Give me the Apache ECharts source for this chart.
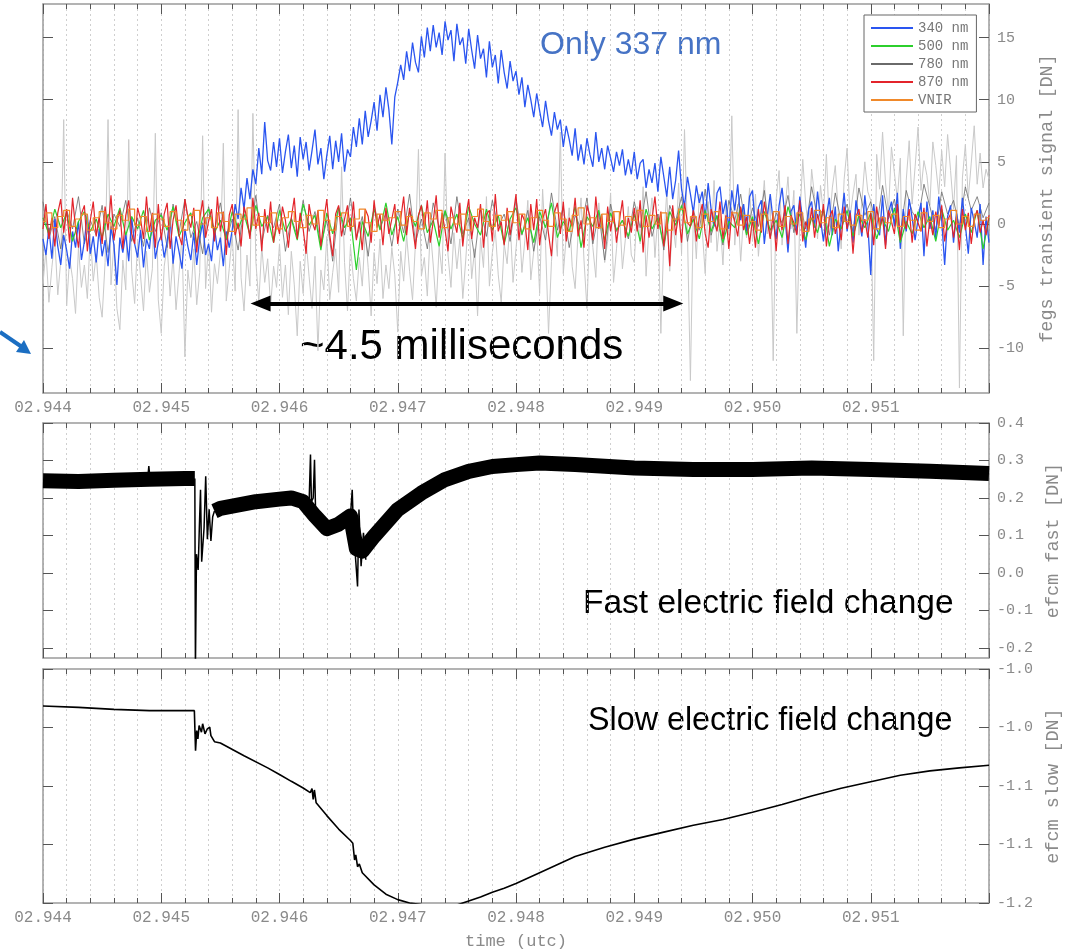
<!DOCTYPE html>
<html>
<head>
<meta charset="utf-8">
<script src="https://cdn.jsdelivr.net/npm/echarts@6/dist/echarts.min.js"></script>
<style>
html, body { margin: 0; padding: 0; background: #fff; }
#main { width: 1076px; height: 951px; }
</style>
</head>
<body>
<div id="main"></div>
<script>
// time is in ms after the minute: 2944 -> "02.944"
var tStart = 2944, tEnd = 2952;
var fineStep = 0.025, coarseStep = 0.05;

// fegs transient signal [DN]; fine series: one value every 0.025 ms (two rows = 1 ms)
var fegsGrey = [
    -4.8, -2.1, -6.3, -3.5, -1.2, -5.7, -3.0, 8.4, -6.6, -2.7, -4.4, -7.2, -1.9, -5.1, -3.3, -6.0, -0.8, -4.6, -2.4, -5.9,
    -7.5, -3.1, 8.4, -4.9, -1.6, -6.8, -8.5, -2.9, -5.3, 6.8, -3.8, -6.4, -1.4, -4.2, -7.0, -2.2, -5.5, -3.6, 7.3, -6.1,
    -8.8, -3.4, -1.7, -5.8, -2.6, -6.9, -4.0, -1.1, -10.7, -3.7, -5.9, -2.0, -6.5, -3.9, 7.1, -5.2, -1.5, -7.1, -3.2, -4.8,
    -2.3, 6.5, -6.2, -3.6, -0.9, -5.4, 9.2, -4.3, -7.0, -2.5, -5.0, 8.9, -3.0, -6.3, -1.8, -4.7, -2.8, -6.6, -3.4, -5.1,
    -1.6, -5.9, -3.3, -7.3, -2.2, -4.9, -9.0, -3.0, -5.6, -1.3, -4.2, -6.8, -2.6, -10.2, -3.7, -5.3, -1.0, -6.1, -3.9, -2.0,
    -5.5, 4.6, -3.1, -7.0, -1.8, -4.4, -6.2, -2.7, -5.0, -0.6, -3.5, -7.4, -2.3, -4.8, -1.2, -6.0, -3.3, -5.2, -1.9, -4.1,
    -8.7, -2.2, -4.6, -0.9, -3.8, -6.1, -1.5, 6.0, -4.2, -2.7, -5.8, -0.4, -3.3, -6.7, -1.8, -4.0, 5.7, -2.5, -5.1, -0.7,
    -3.6, -1.2, -6.0, -2.9, 0.8, -4.4, -2.0, -7.4, -1.1, -3.5, 2.2, -5.0, -2.3, -0.5, -4.1, -6.3, -1.6, -3.2, 0.3, -4.7,
    -2.0, 0.6, -3.9, -1.3, 1.9, -4.5, -2.2, -0.4, -5.6, 2.8, -1.7, -8.8, -3.0, 0.1, -2.6, 7.4, -4.0, -1.0, 1.3, -3.4,
    -5.2, -0.8, 2.1, -2.9, -6.8, 0.4, -1.9, -4.3, 1.7, -0.6, -3.1, -1.4, 2.5, -4.7, -2.0, 0.9, -3.6, -1.2, 1.4, -2.5,
    -3.1, 1.4, -1.6, 3.0, -4.2, -0.3, 2.1, -2.7, 0.8, -8.8, -1.2, 2.6, -3.8, 0.2, -1.9, 3.3, -2.4, 7.6, -0.7, -12.6,
    1.1, -2.8, 2.4, -0.5, -4.0, 1.8, -1.5, 3.5, -2.2, 0.4, -3.3, 2.0, -0.9, 8.7, -1.7, 1.6, -3.0, 0.7, -1.1, 2.9,
    -1.4, 2.4, -2.6, 0.6, 3.5, -0.8, 1.9, -11.0, 2.0, 4.3, -1.7, 1.2, 3.8, -0.4, 2.7, -8.8, 0.4, 5.2, 1.6, -0.6,
    4.4, 2.2, -1.2, 3.1, 0.8, 5.6, -0.2, 2.9, 4.7, 1.0, -2.0, 3.6, 6.1, 0.5, 2.4, 4.0, -0.9, 1.8, 5.0, 2.6,
    1.9, -11.0, 5.6, 2.8, 7.4, 3.3, 0.9, 6.2, 4.1, 2.0, 5.3, -9.0, 3.5, 6.7, 1.6, 4.6, 7.8, 2.7, 5.1, 3.9,
    1.5, 6.6, 4.7, 2.4, 5.9, 3.0, 7.2, 4.3, 1.2, 5.5, -13.2, 3.7, 6.4, 2.1, 4.9, 7.9, 3.2, 5.7, 2.9, 4.4, 3.6
];
var fegs340 = [
    -1.2, -2.5, -0.3, -2.8, 0.4, -1.8, -3.3, -0.9, -2.1, -3.6, -0.6, -1.9, 0.2, -2.9, -1.4, 0.8, -2.4, -1.0, -3.1, -0.4,
    -2.6, -1.3, -3.4, -0.2, -1.7, -4.9, -1.1, -2.3, -0.8, -3.0, 0.5, -1.6, -2.7, -0.5, -3.5, -1.2, -2.0, 0.3, -2.8, -1.5,
    -0.9, -2.7, -1.4, 0.6, -3.2, -1.0, -2.2, -3.6, -0.4, -1.8, -2.9, -0.7, -3.3, -1.2, 0.1, -2.5, -1.6, -3.0, -0.3, -2.1,
    -1.1, -3.4, -0.6, -1.9, -0.5, 1.6, 0.4, 2.9, 1.2, 3.7, 2.0, 4.4, 3.2, 6.1, 4.0, 8.2, 5.1, 4.3, 6.6, 4.6,
    6.9, 4.1, 5.8, 7.2, 4.5, 6.3, 3.8, 7.0, 5.2, 6.6, 4.3, 5.9, 7.6, 4.8, 6.1, 3.6, 5.5, 7.1, 4.4, 6.7,
    5.0, 7.3, 4.2, 6.0, 5.4, 7.8, 6.2, 8.5, 6.4, 9.1, 7.0, 8.3, 9.8, 7.5, 10.4, 8.6, 11.0, 9.2, 6.4, 10.2,
    11.4, 12.8, 11.6, 13.9, 12.3, 14.6, 13.0, 12.2, 15.1, 13.4, 15.8, 13.9, 16.0, 14.2, 15.4, 13.6, 16.3, 14.8, 15.6, 13.1,
    16.1, 14.4, 15.0, 12.9, 15.7, 14.0, 12.5, 15.2, 13.3, 14.1, 11.8, 14.7, 12.6, 13.6, 11.3, 14.0, 12.2, 10.9, 13.1, 11.5,
    12.3, 10.4, 11.8, 9.4, 11.2, 10.0, 8.6, 10.5, 9.1, 7.8, 9.9, 8.3, 7.1, 9.0, 7.6, 8.4, 6.2, 7.9, 6.8, 5.5,
    7.7, 5.1, 6.4, 4.8, 6.9, 5.6, 4.6, 7.4, 5.0, 6.1, 4.4, 6.3, 5.3, 4.2, 5.8, 4.7, 6.0, 3.9, 5.2, 4.0,
    5.8, 3.6, 4.9, 5.2, 2.9, 4.4, 3.3, 4.9, 2.6, 5.4, 3.8, 2.2, 4.6, 2.0, 3.5, 5.9, 2.8, 1.4, 3.8, 2.4,
    0.9, 3.1, 1.7, 2.6, 0.4, 3.3, 1.2, -0.2, 2.5, 3.0, 0.8, 1.9, -0.4, 2.7, 1.1, 3.2, 0.3, 1.6, -0.6, 2.2,
    2.7, -0.5, 1.3, 1.9, -1.6, 0.6, 2.4, 0.2, -1.2, 1.5, 2.9, 0.6, -2.3, 1.0, 1.5, -0.8, 2.2, 0.1, -1.9, 1.2,
    1.8, -0.3, 2.6, 0.4, -1.4, 0.7, 2.1, -0.9, 1.4, -2.2, 0.3, 2.5, -0.6, 1.1, -1.5, 1.9, 0.5, -1.0, 2.3, 0.0,
    -4.1, 1.6, -0.4, -0.9, 2.3, -1.7, 0.9, 1.8, -0.2, 2.5, -2.0, 1.2, -0.6, 2.0, 0.5, -1.3, 0.4, 1.7, -2.6, 1.8,
    -0.4, 1.1, -1.2, 2.2, 0.3, -3.3, 0.6, 1.5, -1.5, 0.9, -0.7, 2.1, -0.1, -2.4, 1.3, 0.2, -1.1, 1.6, -3.3, 0.6, -1.5
];
var fegs870 = [
    -0.4, 1.6, -1.2, 0.5, -1.8, 0.9, 2.0, -0.7, 1.2, -1.5, 2.1, -0.3, -1.9, 0.8, 1.5, -2.2, 0.3, 1.8, -1.0, 0.6,
    -1.6, 1.4, -0.5, 2.3, -1.3, 0.2, 1.1, -2.0, 0.7, 1.9, -0.8, -1.6, 1.3, 0.4, -1.2, 2.2, -0.6, 0.9, -1.9, 1.6,
    -1.3, 0.8, 1.7, -2.0, 0.3, 1.5, -0.9, -1.7, 2.0, 0.6, -0.3, 1.3, -2.3, 0.4, 1.9, -1.1, 0.2, 1.2, -1.4, 2.2,
    -0.6, 1.0, -2.5, 0.7, 1.6, -0.9, 0.1, -1.8, 1.4, 0.5, -1.2, 2.1, -0.4, 0.9, -2.2, 1.2, -0.7, 1.8, -1.5, 0.3,
    -0.8, 1.4, 0.3, -1.9, 0.5, 2.1, -1.2, 0.9, -0.4, -2.4, 1.6, 0.2, -0.5, 1.1, -1.8, 0.3, 2.0, -0.9, -2.6, 0.8,
    1.5, -1.0, 0.4, 1.5, -0.6, 1.8, -1.3, 0.2, -2.1, 1.2, 0.6, -1.5, 1.9, -0.3, 0.8, -1.7, 1.3, -0.8, 0.4, 1.6,
    -1.6, 0.4, 2.2, -0.9, 1.3, -0.2, -2.0, 0.7, 1.5, -0.4, 1.9, -1.5, 0.2, 2.3, -1.1, 0.9, -0.5, -2.2, 1.4, 0.3,
    -0.7, 1.7, -1.8, 0.6, 2.0, -1.2, 0.5, -0.3, 1.6, -1.9, 0.8, 1.1, -1.4, 2.4, -0.6, 0.2, -1.7, 1.3, -0.9, 0.6,
    2.4, -1.3, 0.8, 0.2, -2.1, 1.6, -0.5, 2.0, -1.7, 0.4, 1.2, -0.8, -2.6, 0.9, 1.7, -0.8, 1.8, -1.4, 0.5, -0.2,
    2.1, -1.0, 0.3, -1.9, 1.5, 0.6, -1.3, 2.2, -0.4, 0.8, -2.0, 1.4, -0.6, 1.0, -1.5, 0.3, 1.9, -1.1, 0.5, -0.7,
    1.3, -0.6, 1.9, -2.3, 0.7, -1.1, 0.4, 2.2, -0.4, 1.0, -1.8, 0.6, -3.4, 1.5, -0.9, 0.8, -1.5, 1.7, 0.1, -0.2,
    1.1, -1.4, 0.5, 1.6, -0.8, -1.9, 1.2, 0.3, -0.6, 1.8, -1.2, 0.7, -2.0, 1.0, 0.2, -1.0, 1.4, -0.5, 0.6, -1.6,
    0.4, -1.9, 1.2, -0.7, 1.8, 0.3, -1.2, 0.9, -2.2, 1.0, -0.5, 1.5, -1.6, 0.7, 0.1, -0.9, 1.9, -1.4, 0.2, -0.6,
    1.3, -1.1, 0.8, -0.3, 1.6, -1.8, 0.5, 1.1, -0.8, 0.3, -1.3, 1.4, -0.4, 0.9, -2.4, 0.6, 1.2, -0.7, 0.4, -1.1,
    0.9, -1.7, 1.4, -0.3, 0.6, -2.0, 1.1, 0.2, -0.8, 1.6, -1.3, 0.5, -0.4, 1.2, -1.5, 0.8, 0.1, -0.6, 1.3, -1.8,
    0.4, -0.9, 1.0, -0.2, 1.5, -1.4, 0.3, 0.8, -1.1, 0.6, -2.1, 1.2, -0.5, 0.9, -1.6, 0.4, 1.1, -0.7, 0.3, -0.9, 0.7
];
// coarse series: one value every 0.05 ms (one row = 1 ms)
var fegs780 = [
    1.8, -1.2, 0.6, -2.0, 1.1, -0.4, 2.2, -1.6, 0.3, -0.9, 1.5, -2.3, 0.8, -0.2, 1.9, -1.4, 0.5, -1.8, 1.3, -0.6,
    0.9, -1.9, 1.6, -0.7, 2.0, -1.1, 0.2, -2.4, 1.4, -0.5, 1.7, -1.3, 0.4, -2.1, 1.2, -0.8, 2.3, -1.5, 0.7, -0.3,
    1.6, -2.2, 0.5, -1.0, 1.9, -0.6, 1.0, -1.7, 0.3, -3.0, 1.4, -0.9, 2.1, -1.2, 0.6, -2.6, 1.5, -0.4, 0.9, -1.8,
    1.2, -0.7, 2.4, -1.5, 0.4, -2.0, 1.7, -0.3, 1.0, -1.6, 2.2, -0.8, 0.5, -2.7, 1.3, -1.0, 1.9, -0.2, 0.8, -1.4,
    2.0, -0.9, 1.1, -2.2, 0.6, -1.3, 2.5, -0.5, 1.4, -1.9, 0.7, -0.4, 2.1, -1.6, 0.9, -2.9, 1.6, -0.6, 0.3, -1.2,
    1.8, -0.3, 2.6, -1.0, 0.8, -2.1, 1.5, 0.2, 2.2, -1.4, 1.1, -0.5, 2.8, -0.9, 0.6, -1.7, 1.9, 0.3, 2.4, -0.8,
    1.3, -0.2, 2.7, -1.1, 0.9, 0.1, 2.3, -0.7, 1.7, -0.4, 3.0, 0.5, 1.2, -0.9, 2.5, 0.2, 1.6, -0.6, 2.9, 0.7,
    1.8, -0.3, 3.1, 0.4, 2.0, -0.8, 2.7, 1.0, 0.2, 3.2, 1.4, -0.5, 2.6, 0.8, 1.9, -0.2, 3.0, 1.1, 2.2, 0.5, 1.7
];
var fegs500 = [
    0.5, -0.8, 1.2, -0.3, 0.9, -1.4, 0.2, 1.0, -0.6, 0.4, -1.1, 0.8, -0.2, 1.3, -0.9, 0.6, -0.4, 1.1, -1.3, 0.3,
    0.7, -0.5, 1.4, -1.0, 0.1, 0.9, -1.6, 0.5, 1.2, -0.7, 0.3, -1.2, 1.0, -0.4, 0.8, -0.9, 1.5, -0.2, 0.6, -1.5,
    1.1, -0.6, 0.4, -1.3, 1.6, -0.1, 0.7, -2.1, 0.9, -0.8, 1.3, -0.3, 0.5, -3.7, 0.2, -1.0, 1.2, -0.5, 1.7, -0.9,
    0.6, -1.4, 1.0, -0.2, 1.5, -0.7, 0.3, -1.8, 1.1, -0.4, 0.8, -1.2, 1.4, 0.0, -0.9, 1.2, -0.5, 0.7, -1.6, 0.4,
    1.3, -0.8, 0.5, -1.5, 1.0, -0.3, 1.7, -1.1, 0.2, -0.6, 1.4, -1.9, 0.6, -0.2, 1.1, -1.3, 0.9, -0.5, 0.3, -1.0,
    0.8, -1.4, 1.2, -0.4, 0.5, -1.7, 1.0, -0.1, 1.5, -0.8, 0.4, -1.2, 1.1, -0.6, 0.7, -1.5, 0.2, -0.3, 1.3, -0.9,
    0.6, -1.6, 1.0, -0.5, 0.3, -1.1, 1.4, -0.2, 0.8, -1.3, 0.5, -0.7, 1.2, -1.8, 0.4, -0.4, 1.1, -1.0, 0.7, -0.3,
    0.9, -1.2, 0.4, -0.6, 1.3, -1.5, 0.2, -0.8, 1.0, -0.3, 0.6, -1.4, 1.2, -0.5, 0.3, -1.1, 0.8, -0.7, 1.1, -2.0, 0.5
];
var fegsVnir = [
    0.2, 0.9, -0.3, 0.6, 1.1, -0.2, 0.4, 0.8, -0.5, 0.5, 1.0, 0.1, -0.4, 0.7, 0.3, 1.2, -0.1, 0.6, -0.6, 0.8,
    0.4, -0.2, 1.0, 0.3, -0.5, 0.7, 1.1, 0.0, 0.5, -0.3, 0.9, 0.2, -0.6, 0.8, 0.4, 1.3, -0.1, 0.6, 0.1, 0.9,
    -0.4, 0.5, 1.0, 0.2, -0.3, 0.7, 0.0, 1.1, 0.3, -0.5, 0.6, 0.9, -0.2, 0.4, 1.2, 0.1, -0.6, 0.8, 0.3, 0.5,
    1.0, -0.1, 0.6, 0.2, -0.4, 0.9, 0.4, 1.1, -0.3, 0.5, 0.0, 0.8, -0.5, 0.6, 1.2, 0.2, -0.2, 0.7, 0.3, 1.0,
    0.1, 0.8, -0.4, 0.5, 1.1, 0.3, -0.2, 0.9, 0.4, -0.6, 0.7, 1.3, 0.0, 0.5, -0.3, 0.8, 0.2, 1.0, -0.1, 0.6,
    0.3, 1.1, -0.2, 0.7, 0.0, 0.9, -0.5, 0.4, 1.2, 0.1, 0.6, -0.3, 0.8, 0.2, 1.0, -0.4, 0.5, 0.9, -0.1, 0.7,
    0.2, -0.5, 0.8, 0.3, 1.0, -0.2, 0.6, 0.0, 0.9, -0.6, 0.4, 1.1, 0.1, 0.5, -0.3, 0.8, 0.2, -0.1, 0.7, 0.3,
    1.0, -0.4, 0.5, 0.1, 0.8, -0.2, 0.6, 0.3, -0.5, 0.9, 0.2, 0.7, -0.3, 0.4, 1.1, 0.0, 0.6, -0.2, 0.8, 0.3, 0.5
];

// efcm fast [DN]: centre of the noisy band, before and after the return stroke
var fastBandT1 = [2944.0, 2944.3, 2944.6, 2944.9, 2945.2, 2945.284];
var fastBandV1 = [0.246, 0.244, 0.247, 0.25, 0.252, 0.252];
var fastBandT2 = [2945.45, 2945.5, 2945.6, 2945.8, 2946.0, 2946.1, 2946.2, 2946.3, 2946.4, 2946.5, 2946.6,
    2946.65, 2946.7, 2946.8, 2947.0, 2947.2, 2947.4, 2947.6, 2947.8, 2948.0, 2948.2, 2948.5,
    2949.0, 2949.5, 2950.0, 2950.5, 2951.0, 2951.5, 2952.0];
var fastBandV2 = [0.165, 0.172, 0.178, 0.19, 0.197, 0.2, 0.19, 0.152, 0.118, 0.13, 0.152,
    0.065, 0.058, 0.098, 0.169, 0.213, 0.249, 0.271, 0.284, 0.289, 0.293, 0.289,
    0.28, 0.276, 0.276, 0.28, 0.276, 0.271, 0.265];
// thin excursions (spikes) of the fast antenna
var fastSpikeT1 = [2945.284, 2945.289, 2945.298, 2945.312, 2945.322, 2945.332, 2945.342, 2945.362,
    2945.376, 2945.39, 2945.405, 2945.42, 2945.435, 2945.45];
var fastSpikeV1 = [0.252, -0.26, 0.05, 0.008, 0.12, 0.222, 0.03, 0.12, 0.258, 0.09, 0.17, 0.085, 0.15, 0.165];
var fastSpikeT2 = [2946.25, 2946.262, 2946.27, 2946.285, 2946.296, 2946.305];
var fastSpikeV2 = [0.185, 0.316, 0.19, 0.2, 0.302, 0.165];
var fastSpikeT3 = [2946.6, 2946.615, 2946.625, 2946.66, 2946.672, 2946.69, 2946.71, 2946.73];
var fastSpikeV3 = [0.152, 0.222, 0.12, -0.036, 0.169, 0.018, 0.107, 0.035];
var fastSpikeT4 = [2944.885, 2944.895, 2944.905];
var fastSpikeV4 = [0.25, 0.285, 0.25];

// efcm slow [DN]
var slowT = [2944.0, 2944.3, 2944.6, 2944.9, 2945.28, 2945.29, 2945.3, 2945.31, 2945.32, 2945.34, 2945.35,
    2945.37, 2945.39, 2945.41, 2945.42, 2945.45, 2945.5, 2945.7, 2945.9, 2946.0, 2946.1, 2946.2, 2946.26,
    2946.275, 2946.285, 2946.295, 2946.31, 2946.4, 2946.5, 2946.6, 2946.62, 2946.635, 2946.645, 2946.66,
    2946.675, 2946.7, 2946.8, 2946.9, 2947.0, 2947.1, 2947.2, 2947.35, 2947.5, 2947.6, 2947.7, 2947.8,
    2947.9, 2948.0, 2948.2, 2948.5, 2948.75, 2949.0, 2949.25, 2949.5, 2949.75, 2950.0, 2950.25, 2950.5,
    2950.75, 2951.0, 2951.25, 2951.5, 2951.75, 2952.0];
var slowV = [-1.0316, -1.0328, -1.0345, -1.0356, -1.0356, -1.0698, -1.0526, -1.0598, -1.0483, -1.054, -1.0468,
    -1.0555, -1.0511, -1.0497, -1.0569, -1.0621, -1.0632, -1.0741, -1.0845, -1.0902, -1.096, -1.1017, -1.1057,
    -1.1023, -1.1115, -1.1034, -1.1144, -1.1253, -1.1368, -1.1466, -1.1489, -1.1632, -1.1589, -1.169,
    -1.1667, -1.1741, -1.1845, -1.1925, -1.1971, -1.2, -1.2014, -1.202, -1.2017, -1.1983, -1.1948, -1.1908,
    -1.1874, -1.1833, -1.1741, -1.1603, -1.1523, -1.1454, -1.1394, -1.1336, -1.1287, -1.1224, -1.1158, -1.1086,
    -1.102, -1.0963, -1.0908, -1.0871, -1.0845, -1.0822];

// tick labels of the three value axes
var fegsTicks = [-10, -5, 0, 5, 10, 15];
var fastTicks = [-0.2, -0.1, 0.0, 0.1, 0.2, 0.3, 0.4];
var slowTicks = [-1.2, -1.15, -1.1, -1.05, -1.0];
var slowTickLabels = ['-1.2', '-1.1', '-1.1', '-1.0', '-1.0'];

// arrow marking the duration of the 337 nm emission
var arrowSpan = [2945.84, 2949.33];
var arrowLevel = -6.4;

var mono = 'Liberation Mono';

function series(vals, step) {
    return vals.map(function (v, i) {
        return [tStart + i * step, v];
    });
}
function zip(ts, vs) {
    return ts.map(function (t, i) {
        return [t, vs[i]];
    });
}

var frameLine = {color: '#9b9b9b', width: 1.5};
var tickLine = {color: '#555', width: 1};
var dotted = {color: '#cfcfcf', width: 1, type: [2, 3]};

// bottom time axis + a mirrored top axis carrying only the ticks
function timeAxes(g, withLabels, name) {
    var base = {
        type: 'value', gridIndex: g, min: tStart, max: tEnd, interval: 1,
        axisLine: {show: true, onZero: false, lineStyle: frameLine},
        axisTick: {show: true, inside: true, length: 10, lineStyle: tickLine},
        minorTick: {show: true, splitNumber: 5, length: 5, lineStyle: tickLine}
    };
    var bottom = Object.assign({}, base, {
        position: 'bottom',
        splitLine: {show: true, lineStyle: dotted},
        minorSplitLine: {show: true, lineStyle: dotted},
        axisLabel: {
            show: withLabels, margin: 7, showMaxLabel: false,
            fontFamily: mono, fontSize: 16, color: '#8a8a8a',
            formatter: function (v) {
                return '0' + (v / 1000).toFixed(3);
            }
        }
    });
    if (name) {
        bottom.name = name;
        bottom.nameLocation = 'middle';
        bottom.nameGap = 30;
        bottom.nameTextStyle = {fontFamily: mono, fontSize: 17, color: '#8a8a8a'};
    }
    var top = Object.assign({}, base, {
        position: 'top',
        splitLine: {show: false},
        axisLabel: {show: false}
    });
    return [bottom, top];
}

// right value axis with labels + mirrored left axis with ticks only
function valueAxes(g, min, max, ticks, fmt, name) {
    var right = {
        type: 'value', gridIndex: g, position: 'right', min: min, max: max,
        axisLine: {show: true, onZero: false, lineStyle: frameLine},
        axisTick: {show: true, inside: true, length: 10, lineStyle: tickLine, customValues: ticks},
        splitLine: {show: false},
        axisLabel: {
            customValues: ticks, margin: 8, formatter: fmt,
            fontFamily: mono, fontSize: 15, color: '#8a8a8a'
        },
        name: name, nameLocation: 'middle', nameGap: 49, nameRotate: 90,
        nameTextStyle: {fontFamily: mono, fontSize: 18.5, color: '#8a8a8a'}
    };
    var left = {
        type: 'value', gridIndex: g, position: 'left', min: min, max: max,
        axisLine: {show: true, onZero: false, lineStyle: frameLine},
        axisTick: {show: true, inside: true, length: 10, lineStyle: tickLine, customValues: ticks},
        splitLine: {show: false},
        axisLabel: {show: false}
    };
    return [right, left];
}

function line(name, data, color, width, xi, yi, extra) {
    return Object.assign({
        name: name, type: 'line', data: data,
        xAxisIndex: xi, yAxisIndex: yi,
        showSymbol: false, symbol: 'none', silent: true,
        lineStyle: {color: color, width: width},
        itemStyle: {color: color}
    }, extra || {});
}

var xAxes = [].concat(timeAxes(0, true), timeAxes(1, false), timeAxes(2, true, 'time (utc)'));
var yAxes = [].concat(
    valueAxes(0, -13.6, 17.7, fegsTicks, function (v) { return String(v); }, 'fegs transient signal [DN]'),
    valueAxes(1, -0.227, 0.4, fastTicks, function (v) { return v.toFixed(1); }, 'efcm fast [DN]'),
    valueAxes(2, -1.2, -1.0, slowTicks, function (v) {
        return slowTickLabels[Math.round((v - slowTicks[0]) / 0.05)];
    }, 'efcm slow [DN]')
);

var thick = {color: '#000', width: 15, join: 'round', cap: 'butt'};

var option = {
    animation: false,
    backgroundColor: '#fff',
    grid: [
        {left: 43, right: 87, top: 4, height: 389},
        {left: 43, right: 87, top: 423, height: 235},
        {left: 43, right: 87, top: 669, height: 234}
    ],
    xAxis: xAxes,
    yAxis: yAxes,
    legend: {
        data: ['340 nm', '500 nm', '780 nm', '870 nm', 'VNIR'],
        orient: 'vertical', left: 864, top: 15,
        icon: 'rect', itemWidth: 42, itemHeight: 2, itemGap: 4,
        padding: [6, 8, 5, 7],
        borderColor: '#666', borderWidth: 1, backgroundColor: '#fff',
        selectedMode: false,
        textStyle: {fontFamily: mono, fontSize: 14, lineHeight: 14, color: '#777'}
    },
    series: [
        line('lamp', series(fegsGrey, fineStep), '#c9c9c9', 1, 0, 0),
        line('780 nm', series(fegs780, coarseStep), '#6a6a6a', 0.8, 0, 0),
        line('340 nm', series(fegs340, fineStep), '#2a55f0', 1.3, 0, 0),
        line('500 nm', series(fegs500, coarseStep), '#2ccf2c', 1.2, 0, 0),
        line('870 nm', series(fegs870, fineStep), '#e3242b', 1.2, 0, 0),
        line('VNIR', series(fegsVnir, coarseStep), '#f0892a', 1.2, 0, 0, {
            step: 'middle',
            markLine: {
                silent: true,
                symbol: ['triangle', 'triangle'],
                symbolSize: [16, 20],
                label: {show: false},
                lineStyle: {color: '#000', width: 4, type: 'solid'},
                itemStyle: {color: '#000'},
                data: [[{coord: [arrowSpan[0], arrowLevel]}, {coord: [arrowSpan[1], arrowLevel]}]]
            }
        }),
        line('fast', zip(fastBandT1, fastBandV1), '#000', 15, 2, 2, {lineStyle: thick}),
        line('fast', zip(fastBandT2, fastBandV2), '#000', 15, 2, 2, {lineStyle: thick}),
        line('fast', zip(fastSpikeT1, fastSpikeV1), '#000', 1.5, 2, 2),
        line('fast', zip(fastSpikeT2, fastSpikeV2), '#000', 1.5, 2, 2),
        line('fast', zip(fastSpikeT3, fastSpikeV3), '#000', 1.5, 2, 2),
        line('fast', zip(fastSpikeT4, fastSpikeV4), '#000', 1.5, 2, 2),
        line('slow', zip(slowT, slowV), '#000', 1.6, 4, 4)
    ],
    graphic: [
        {type: 'text', left: 540, top: 29, style: {text: 'Only 337 nm', font: '32px "Liberation Sans"', fill: '#4673c5'}},
        {type: 'text', left: 300, top: 326, style: {text: '~4.5 milliseconds', font: '42px "Liberation Sans"', fill: '#000'}},
        {type: 'text', left: 583, top: 587, style: {text: 'Fast electric field change', font: '33.5px "Liberation Sans"', fill: '#000'}},
        {type: 'text', left: 588, top: 705, style: {text: 'Slow electric field change', font: '32.3px "Liberation Sans"', fill: '#000'}},
        {type: 'line', shape: {x1: 0, y1: 332, x2: 22, y2: 347}, style: {stroke: '#1b6ec2', lineWidth: 4}},
        {type: 'polygon', shape: {points: [[31, 354], [16, 352], [24, 340]]}, style: {fill: '#1b6ec2'}}
    ]
};

var chart = echarts.init(document.getElementById('main'));
chart.setOption(option);
</script>
</body>
</html>
